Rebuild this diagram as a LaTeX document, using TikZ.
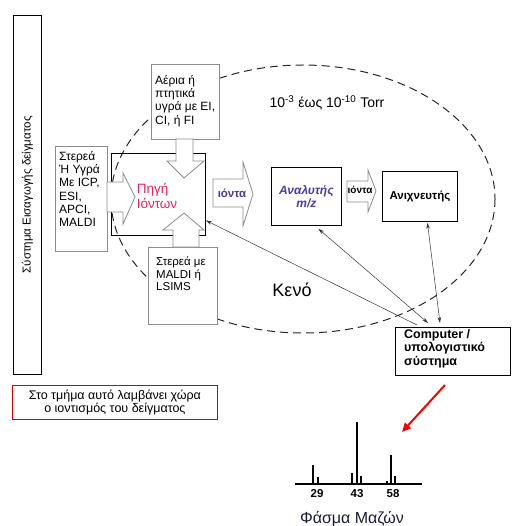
\documentclass[tikz,border=0pt]{standalone}
\usepackage{fontspec}
\setmainfont{Liberation Sans}
\usepackage{xcolor}
\usetikzlibrary{arrows.meta}
\definecolor{ionred}{HTML}{E8245A}
\definecolor{ionblue}{HTML}{4A3C9C}
\definecolor{boxgray}{HTML}{8C8C8C}
\definecolor{navy}{HTML}{1A1A3A}
\tikzset{
    gray-box/.style = {draw=boxgray, fill=white, line width=0.9pt, rectangle, inner sep=0pt, anchor=north west},
    black-box/.style = {draw=black, line width=0.8pt, rectangle, inner sep=0pt, anchor=north west},
    box-text/.style = {anchor=north west, align=left, inner sep=0pt, font=\fontsize{12}{13.3}\selectfont},
    block-arrow/.style = {draw=boxgray, fill=white, line width=0.8pt, line join=miter},
    link/.style = {draw=black!80, line width=0.5pt},
    vacuum/.style = {draw=black!85, line width=1pt, dash pattern=on 8pt off 5pt},
}

\begin{document}
\begin{tikzpicture}[x=1pt,y=-1pt]
\useasboundingbox (0,0) rectangle (511,526);
% vacuum region
\draw[vacuum] (303,199) ellipse [x radius=192, y radius=134];
\node[font=\fontsize{14}{16}\selectfont] (pressure) at (327,103) {10\textsuperscript{-3} έως 10\textsuperscript{-10} Torr};
\node[font=\fontsize{18}{20}\selectfont] (vacuum-label) at (292,290) {Κενό};

% sample inlet
\node[black-box, minimum width=28pt, minimum height=359pt] (inlet) at (13,15) {};
\node[rotate=90, font=\fontsize{11.5}{13}\selectfont] (inlet-text) at (inlet.center) {Σύστημα Εισαγωγής δείγματος};

% ion source and its inputs
\node[black-box, minimum width=94pt, minimum height=82pt] (source) at (111,153) {};
\node[gray-box, minimum width=68pt, minimum height=75pt] (gas) at (151,64) {};
\node[box-text] (gas-text) at ([xshift=4pt,yshift=-11pt]gas.north west) {Αέρια ή\\πτητικά\\υγρά με EI,\\CI, ή FI};
\node[gray-box, minimum width=52pt, minimum height=105pt] (liquid) at (55,146) {};
\node[box-text] (liquid-text) at ([xshift=4pt,yshift=-5pt]liquid.north west) {Στερεά\\Ή Υγρά\\Με ICP,\\ESI,\\APCI,\\MALDI};
\node[gray-box, minimum width=69pt, minimum height=77pt] (solid) at (148,247) {};
\node[box-text, font=\fontsize{11.5}{12.5}\selectfont] (solid-text) at ([xshift=8pt,yshift=-10pt]solid.north west) {Στερεά με\\MALDI ή\\LSIMS};

\draw[block-arrow] (176,139) -- (193,139) -- (193,161) -- (204,161) -- (184,178) -- (167,161) -- (176,161) -- cycle;
\draw[block-arrow] (107,182) -- (123,182) -- (123,173) -- (135,197) -- (123,224) -- (123,212) -- (107,212) -- cycle;
\draw[block-arrow] (173,247) -- (173,230) -- (163,230) -- (184,213) -- (204,230) -- (199,230) -- (199,247) -- cycle;
\node[text=ionred, align=left, font=\fontsize{13.5}{14.5}\selectfont] (source-text) at (157,196) {Πηγή\\Ιόντων};

% analyser and detector
\draw[block-arrow] (213,179) -- (243,179) -- (243,162) -- (253,194) -- (243,226) -- (243,207) -- (213,207) -- cycle;
\node[text=ionblue, font=\bfseries\fontsize{11.5}{13}\selectfont] (ions-a) at (232,193) {ιόντα};
\node[black-box, minimum width=70pt, minimum height=58pt, align=center, text=ionblue,
      font=\bfseries\itshape\fontsize{12}{13.5}\selectfont] (analyser) at (271,167) {Αναλυτής\\m/z};
\draw[block-arrow] (347,181) -- (368,181) -- (368,170) -- (376,191) -- (368,212) -- (368,202) -- (347,202) -- cycle;
\node[font=\bfseries\fontsize{10}{12}\selectfont] (ions-b) at (360,190) {ιόντα};
\node[black-box, minimum width=75pt, minimum height=50pt, font=\bfseries\fontsize{11.5}{13}\selectfont] (detector) at (382,171) {Ανιχνευτής};

% computer
\node[black-box, minimum width=115pt, minimum height=48pt] (computer) at (395,327) {};
\node[box-text, font=\bfseries\fontsize{12.5}{13.5}\selectfont] (computer-text) at ([xshift=9pt,yshift=-2pt]computer.north west) {Computer /\\υπολογιστικό\\σύστημα};

\draw[link, -{Stealth[length=6pt,width=3.5pt]}] ([xshift=22pt,yshift=2pt]computer.north west) -- ([yshift=-26pt]source.east);
\draw[link, {Stealth[length=6pt,width=3.5pt]}-{Stealth[length=6pt,width=3.5pt]}] ([xshift=12pt,yshift=-3pt]analyser.south) -- ([xshift=33pt,yshift=4pt]computer.north west);
\draw[link, {Stealth[length=6pt,width=3.5pt]}-{Stealth[length=6pt,width=3.5pt]}] ([xshift=7.5pt,yshift=-1pt]detector.south) -- ([xshift=45pt,yshift=4pt]computer.north west);

% note
\node[draw=red!85!black, line width=0.8pt, minimum width=205pt, minimum height=34pt, inner sep=0pt, anchor=north west,
      align=center, font=\fontsize{12.5}{13.5}\selectfont] (note) at (12,385) {Στο τμήμα αυτό λαμβάνει χώρα\\ο ιοντισμός του δείγματος};

% mass spectrum
\coordinate (red-start) at (445,385);
\coordinate (red-end) at (402,432);
\draw[red, line width=2pt, -{Triangle[length=9pt,width=8pt]}] (red-start) -- (red-end);
\coordinate (axis-left) at (295,484);
\coordinate (axis-right) at (422,484);
\draw[line width=1.4pt] (axis-left) -- (axis-right);
\foreach \x/\top in {313/465, 318/477, 352/473, 357/422, 361/476, 387/481, 391/455, 395/476}
    \draw[line width=2.2pt] (\x,484) -- (\x,\top);
\foreach \x/\mass in {317/29, 357/43, 393/58}
    \node[font=\bfseries\fontsize{11.5}{13}\selectfont] (mass-\mass) at (\x,494) {\mass};
\node[text=navy, font=\fontsize{16}{18}\selectfont] (spectrum) at (352,519) {Φάσμα Μαζών};
\end{tikzpicture}
\end{document}
